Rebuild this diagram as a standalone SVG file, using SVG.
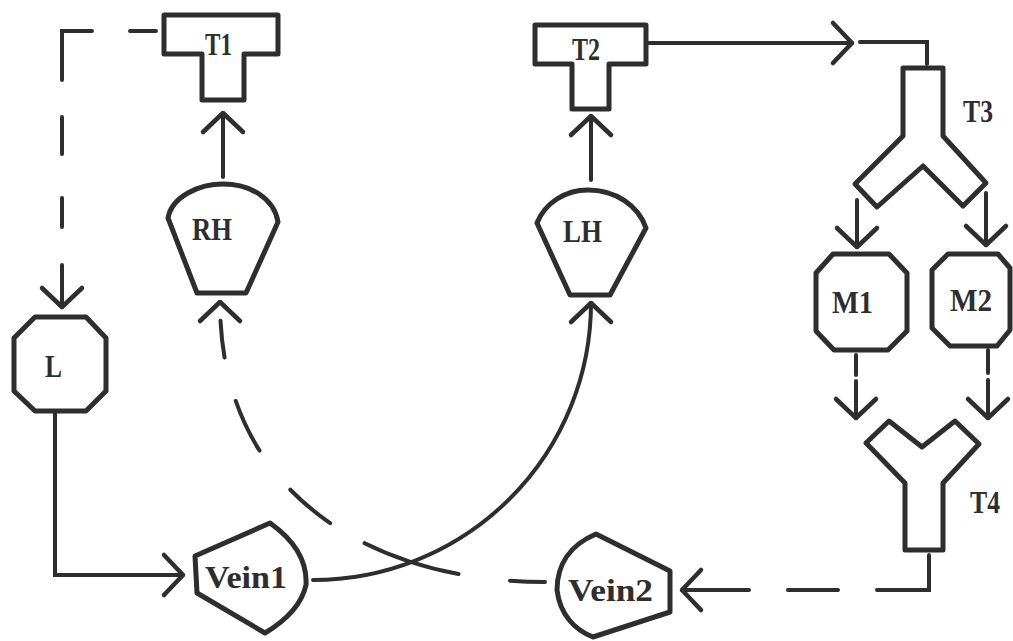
<svg xmlns="http://www.w3.org/2000/svg" width="1013" height="641" viewBox="0 0 1013 641">
<style>
.node{fill:none;stroke:#2e2e2e;stroke-width:5;stroke-linejoin:round}
.lbl{font-family:"Liberation Serif","DejaVu Serif",serif;font-weight:bold;font-size:31px;fill:#2e2e2e}
.edge{fill:none;stroke:#2e2e2e;stroke-width:4;stroke-linecap:round;stroke-linejoin:miter}
</style>
<defs>
<marker id="chev" markerUnits="userSpaceOnUse" markerWidth="40" markerHeight="50" refX="0" refY="0" orient="auto" overflow="visible">
<path d="M-19,-20 L0,0 L-19,20" fill="none" stroke="#2e2e2e" stroke-width="4.5" stroke-linecap="round" stroke-linejoin="round"/>
</marker>
</defs>
<rect width="1013" height="641" fill="#ffffff"/>
<g id="connectors">
<path class="edge" d="M156,31 H62 V307" stroke-dasharray="26 38 79 37 37 44 29 38 60" marker-end="url(#chev)"/>
<path class="edge" d="M223,177 V113" marker-end="url(#chev)"/>
<path class="edge" d="M591,180 V116" marker-end="url(#chev)"/>
<path class="edge" d="M648,43 H852" marker-end="url(#chev)"/>
<path class="edge" d="M860,42 H927 V64"/>
<path class="edge" d="M857,200 V247" marker-end="url(#chev)"/>
<path class="edge" d="M986,193 V245" marker-end="url(#chev)"/>
<path class="edge" d="M856,355 V418" stroke-dasharray="20 6 60" marker-end="url(#chev)"/>
<path class="edge" d="M988,350 V418" stroke-dasharray="23 7 60" marker-end="url(#chev)"/>
<path class="edge" d="M929,555 V590 H682" stroke-dasharray="87 39 50 39 90" marker-end="url(#chev)"/>
<path class="edge" d="M55,413 V575 H183" marker-end="url(#chev)"/>
<path class="edge" d="M313,580 A278,277 0 0 0 591,303" marker-end="url(#chev)"/>
<path class="edge" d="M545,582 C380,582 220,500 220,302" stroke-dasharray="35 52 99 40 52 50 55 45 37 30" marker-end="url(#chev)"/>
</g>
<g id="T1">
<path class="node" d="M164,15 H278 V54 H244 V100 H202 V54 H164 Z"/>
<text class="lbl" x="205" y="55" textLength="27" lengthAdjust="spacingAndGlyphs">T1</text>
</g>
<g id="T2">
<path class="node" d="M535,25 H646 V64 H609 V109 H572 V64 H535 Z"/>
<text class="lbl" x="572" y="60" textLength="28" lengthAdjust="spacingAndGlyphs">T2</text>
</g>
<g id="RH">
<path class="node" d="M197,293 L168,218 C172,196 200,184 223,184 C250,184 274,198 278,222 L246,293 Z"/>
<text class="lbl" x="192" y="240" textLength="40" lengthAdjust="spacingAndGlyphs">RH</text>
</g>
<g id="LH">
<path class="node" d="M570,295 L537,223 C545,203 565,190 588,190 C615,190 638,205 646,228 L610,295 Z"/>
<text class="lbl" x="563" y="242" textLength="39" lengthAdjust="spacingAndGlyphs">LH</text>
</g>
<g id="T3">
<path class="node" d="M903,68 H943 V136 L986,183 L963,206 L923,166 L877,207 L855,184 L903,136 Z"/>
<text class="lbl" x="963" y="122" textLength="30" lengthAdjust="spacingAndGlyphs">T3</text>
</g>
<g id="M1">
<path class="node" d="M833,254 L889,254 L907,273 L907,331 L888,350 L834,350 L816,331 L816,273 Z"/>
<text class="lbl" x="832" y="313" textLength="41" lengthAdjust="spacingAndGlyphs">M1</text>
</g>
<g id="M2">
<path class="node" d="M948,254 L998,254 L1010,268 L1010,330 L997,346 L950,346 L932,328 L932,270 Z"/>
<text class="lbl" x="950" y="311" textLength="42" lengthAdjust="spacingAndGlyphs">M2</text>
</g>
<g id="T4">
<path class="node" d="M905,550 V483 L866,443 L889,421 L922,447 L955,421 L979,444 L943,483 V550 Z"/>
<text class="lbl" x="970" y="513" textLength="30" lengthAdjust="spacingAndGlyphs">T4</text>
</g>
<g id="L">
<path class="node" d="M35,317 L86,317 L106,338 L106,391 L86,411 L35,411 L14,391 L14,338 Z"/>
<text class="lbl" x="45" y="377" textLength="17" lengthAdjust="spacingAndGlyphs">L</text>
</g>
<g id="Vein1">
<path class="node" d="M270,523 L195,556 L197,593 L265,633 Q300,612 306,585 Q308,550 270,523 Z"/>
<text class="lbl" x="205" y="588" textLength="82" lengthAdjust="spacingAndGlyphs">Vein1</text>
</g>
<g id="Vein2">
<path class="node" d="M596,534 L670,571 L670,612 L593,637 C575,630 560,615 557,590 C557,565 570,545 596,534 Z"/>
<text class="lbl" x="568" y="601" textLength="85" lengthAdjust="spacingAndGlyphs">Vein2</text>
</g>
</svg>
